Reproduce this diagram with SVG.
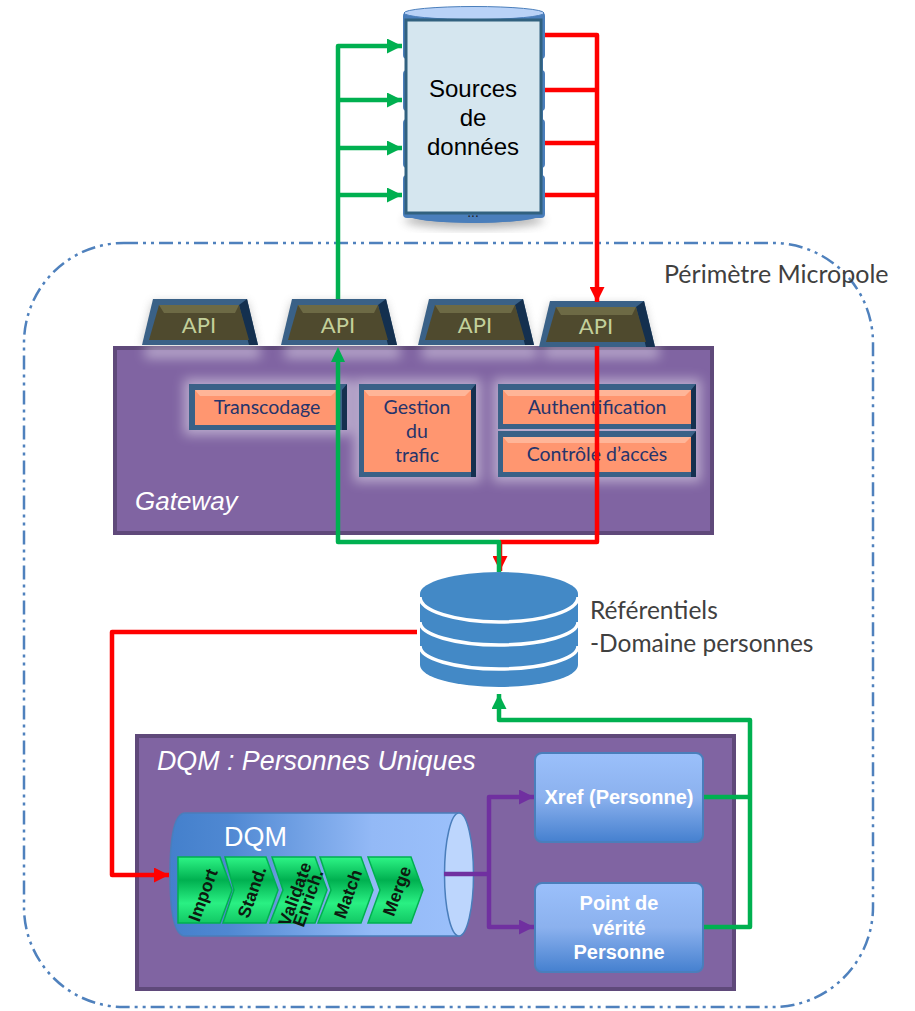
<svg xmlns="http://www.w3.org/2000/svg" width="915" height="1011" viewBox="0 0 915 1011">
<style>
.lato{font-family:Lato,"Open Sans",sans-serif}
.api{font-family:Lato,"Open Sans",sans-serif;font-size:22px;fill:#c3d09b;text-anchor:middle}
.or{font-family:Lato,"Open Sans",sans-serif;font-size:19.500px;fill:#26346b;text-anchor:middle}
.rot{font-family:"Liberation Sans",Arial,sans-serif;font-weight:bold;font-size:17.500px;fill:#0d1a10;text-anchor:middle}
.wb{font-family:"Liberation Sans",Arial,sans-serif;font-weight:bold;font-size:20px;fill:#fff;text-anchor:middle}
.panel{fill:#8064a2;stroke:#5f497a;stroke-width:4}
.box{stroke:#4a7ebb;stroke-width:2;fill:url(#boxg)}
.chev{fill:url(#greeng);stroke:#00b050;stroke-width:1.500}
.g{fill:none;stroke:#00b050;stroke-width:4.500;stroke-linejoin:round}
.r{fill:none;stroke:#ff0000;stroke-width:4.500;stroke-linejoin:round}
.p{fill:none;stroke:#7030a0;stroke-width:4.500;stroke-linejoin:round}
</style>
<defs>
<linearGradient id="boxg" x1="0" y1="0" x2="0" y2="1"><stop offset="0" stop-color="#9bc0fb"/><stop offset="0.5" stop-color="#8bb1ee"/><stop offset="1" stop-color="#4580cf"/></linearGradient>
<linearGradient id="cylg" x1="0" y1="0" x2="1" y2="0"><stop offset="0" stop-color="#4480cc"/><stop offset="0.2" stop-color="#4f88d2"/><stop offset="0.7" stop-color="#93b9f6"/><stop offset="1" stop-color="#9bc0fb"/></linearGradient>
<linearGradient id="greeng" x1="0" y1="0" x2="0" y2="1"><stop offset="0" stop-color="#2ef586"/><stop offset="0.35" stop-color="#00b050"/><stop offset="0.7" stop-color="#2af083"/><stop offset="1" stop-color="#12c864"/></linearGradient>
<filter id="glow" x="-20%" y="-30%" width="140%" height="160%"><feGaussianBlur stdDeviation="6"/></filter>
<filter id="shadow" x="-20%" y="-30%" width="140%" height="160%"><feGaussianBlur stdDeviation="5"/></filter>
<marker id="ag" markerUnits="userSpaceOnUse" markerWidth="16" markerHeight="15" refX="15" refY="7.500" orient="auto"><path d="M0 0L15 7.500L0 15Z" fill="#00b050"/></marker>
<marker id="ar" markerUnits="userSpaceOnUse" markerWidth="16" markerHeight="15" refX="15" refY="7.500" orient="auto"><path d="M0 0L15 7.500L0 15Z" fill="#ff0000"/></marker>
<marker id="ap" markerUnits="userSpaceOnUse" markerWidth="16" markerHeight="15" refX="15" refY="7.500" orient="auto"><path d="M0 0L15 7.500L0 15Z" fill="#7030a0"/></marker>
<g id="trap"><path d="M0 46L11 0H105L116 46Z" fill="#3a6187"/><path d="M105 0L116 46H107L97 6Z" fill="#14304f"/><path d="M7 41L17 6H97L107 41Z" fill="#4f4a2e"/><path d="M17 6H97L93 14H22Z" fill="#6d6a45"/></g>
</defs>

<rect id="perimetre" x="24" y="243" width="849" height="764" rx="100" fill="none" stroke="#4f81bd" stroke-width="2.500" stroke-dasharray="14 5 3 5 3 5"/>
<text class="lato" x="664" y="283" font-size="25" fill="#404040">Périmètre Micropole</text>

<g id="sources">
<ellipse cx="474" cy="220" rx="70" ry="8" fill="#555" opacity="0.45" filter="url(#shadow)"/>
<path d="M405 14H543V212Q543 222 474 223Q405 222 405 212Z" fill="#4a7ebb"/>
<path d="M403 212Q403 222 474 223Q545 222 545 212V205H403Z" fill="#4a7ebb"/>
<rect x="403" y="12" width="142" height="47" rx="4" fill="#4a7ebb"/>
<rect x="403" y="70" width="142" height="41" rx="4" fill="#4a7ebb"/>
<rect x="403" y="119" width="142" height="49" rx="4" fill="#4a7ebb"/>
<rect x="403" y="175" width="142" height="43" rx="4" fill="#4a7ebb"/>
<ellipse cx="474" cy="13" rx="70" ry="6.500" fill="#b9d2f7" stroke="#4a7ebb"/>
<text x="473" y="217" font-family="Liberation Sans,Arial,sans-serif" font-size="14" fill="#222" text-anchor="middle">...</text>
<rect x="406" y="20" width="135" height="193" fill="#d5e6ef" stroke="#31617f" stroke-width="3"/>
<text font-family="Liberation Sans,Arial,sans-serif" font-size="24" fill="#000" text-anchor="middle"><tspan x="473" y="97">Sources</tspan><tspan x="473" y="126">de</tspan><tspan x="473" y="155">données</tspan></text>
</g>

<g fill="#666" opacity="0.4" filter="url(#shadow)">
<path d="M142 346L153 302H247L257 346Z"/><path d="M281 346L292 302H385L396 346Z"/><path d="M418 346L429 302H522L533 346Z"/><path d="M540 348L550 304H643L654 348Z"/>
</g>

<g id="gateway">
<rect class="panel" x="115" y="348" width="597" height="185"/>
<text x="135" y="510" font-family="Liberation Sans,Arial,sans-serif" font-style="italic" font-size="26" fill="#fff">Gateway</text>
</g>
<g fill="#fff" opacity="0.45" filter="url(#glow)">
<rect x="145" y="346" width="115" height="12"/><rect x="285" y="346" width="115" height="12"/><rect x="422" y="346" width="115" height="12"/><rect x="544" y="346" width="115" height="12"/>
<rect x="184" y="379" width="168" height="56"/><rect x="354" y="379" width="127" height="103"/><rect x="493" y="379" width="208" height="103"/>
</g>

<g id="api1"><use href="#trap" x="142" y="299"/><text class="api" x="199" y="333">API</text></g>
<g id="api2"><use href="#trap" x="281" y="299"/><text class="api" x="338" y="333">API</text></g>
<g id="api3"><use href="#trap" x="418" y="299"/><text class="api" x="475" y="333">API</text></g>
<g id="api4"><use href="#trap" x="539" y="301"/><text class="api" x="596" y="334">API</text></g>

<g id="transcodage">
<rect x="189" y="384" width="158" height="46" fill="#3a6187"/><path d="M347 384V430H342V390Z" fill="#14304f"/>
<rect x="195" y="390" width="142" height="35" fill="#ff9670"/><path d="M195 390H337L331 396H200Z" fill="#ffb598"/>
<text class="or" x="267" y="414">Transcodage</text>
</g>
<g id="gestion">
<rect x="359" y="384" width="117" height="93" fill="#3a6187"/><path d="M476 384V477H471V390Z" fill="#14304f"/>
<rect x="364" y="390" width="107" height="82" fill="#ff9670"/><path d="M364 390H471L465 396H369Z" fill="#ffb598"/>
<text class="or"><tspan x="417" y="414">Gestion</tspan><tspan x="417" y="438">du</tspan><tspan x="417" y="462">trafic</tspan></text>
</g>
<g id="auth">
<rect x="498" y="384" width="198" height="45" fill="#3a6187"/><path d="M696 384V429H691V390Z" fill="#14304f"/>
<rect x="503" y="390" width="188" height="34" fill="#ff9670"/><path d="M503 390H691L685 396H508Z" fill="#ffb598"/>
<text class="or" x="597" y="414">Authentification</text>
</g>
<g id="controle">
<rect x="498" y="431" width="198" height="46" fill="#3a6187"/><path d="M696 431V477H691V437Z" fill="#14304f"/>
<rect x="503" y="437" width="188" height="35" fill="#ff9670"/><path d="M503 437H691L685 443H508Z" fill="#ffb598"/>
<text class="or" x="597" y="461">Contrôle d’accès</text>
</g>

<g id="referentiels">
<path d="M420 594A79 22 0 0 1 578 594V665A79 22 0 0 1 420 665Z" fill="#4389c6"/>
<path d="M420 597A79 25 0 0 0 578 597M420 622A79 23 0 0 0 578 622M420 646A79 23 0 0 0 578 646" fill="none" stroke="#fff" stroke-width="3.500"/>
<text class="lato" font-size="24.500" fill="#404040"><tspan x="590" y="619">Référentiels</tspan><tspan x="590" y="652">-Domaine personnes</tspan></text>
</g>

<g id="dqm-panel">
<rect class="panel" x="137" y="736" width="597" height="253"/>
<text x="157" y="770" font-family="Liberation Sans,Arial,sans-serif" font-style="italic" font-size="26.800" fill="#fff">DQM : Personnes Uniques</text>
</g>

<g id="dqm-cylinder">
<path d="M459 813H185Q170 813 170 874.500Q170 936 185 936H459Z" fill="url(#cylg)" stroke="#4a7ebb" stroke-width="1.500"/>
<ellipse cx="459" cy="874.500" rx="14.500" ry="61.500" fill="#bdd6fd" stroke="#4a7ebb" stroke-width="1.500"/>
<text x="224" y="846" font-family="Liberation Sans,Arial,sans-serif" font-size="27" fill="#fff">DQM</text>
</g>
<g id="import"><path class="chev" d="M178 857H220L232 890L220 923H178Z"/><text class="rot" transform="translate(203 895) rotate(-70)" dy="6">Import</text></g>
<g id="stand"><path class="chev" d="M225 857H266L278 890L266 923H223L234 890Z"/><text class="rot" transform="translate(252 892) rotate(-70)" dy="6">Stand.</text></g>
<g id="validate"><path class="chev" d="M272 857H315L327 890L315 923H270L283 890Z"/><text class="rot" transform="translate(295 894) rotate(-70)" dy="6">Validate</text><text class="rot" transform="translate(308 898) rotate(-70)" dy="6">Enrich.</text></g>
<g id="match"><path class="chev" d="M320 857H361L373 890L361 923H318L331 890Z"/><text class="rot" transform="translate(348 894) rotate(-70)" dy="6">Match</text></g>
<g id="merge"><path class="chev" d="M368 857H411L423 890L411 923H368L380 890Z"/><text class="rot" transform="translate(397 891) rotate(-70)" dy="6">Merge</text></g>

<g id="xref"><rect class="box" x="535" y="753" width="168" height="89" rx="7"/><text class="wb" x="619" y="804">Xref (Personne)</text></g>
<g id="point"><rect class="box" x="535" y="883" width="168" height="89" rx="7"/><text class="wb"><tspan x="619" y="910">Point de</tspan><tspan x="619" y="935">vérité</tspan><tspan x="619" y="959">Personne</tspan></text></g>

<g id="connectors">
<path class="r" d="M545 35H597V302" marker-end="url(#ar)"/>
<path class="r" d="M545 90H597M545 143H597M545 195H597"/>
<path class="g" d="M338 299V46H402" marker-end="url(#ag)"/>
<path class="g" d="M338 100H402" marker-end="url(#ag)"/>
<path class="g" d="M338 148H402" marker-end="url(#ag)"/>
<path class="g" d="M338 195H402" marker-end="url(#ag)"/>
<path class="r" d="M597 346V542H500V571" marker-end="url(#ar)"/>
<path class="g" d="M338 360V542H499V572"/>
<path d="M331 362L338 347L345 362Z" fill="#00b050"/>
<path class="r" d="M417 632H112V875H169" marker-end="url(#ar)"/>
<path class="g" d="M704 797H750M704 927H750V720H499V694" marker-end="url(#ag)"/>
<path class="p" d="M444 874H489"/>
<path class="p" d="M489 874V797H534" marker-end="url(#ap)"/>
<path class="p" d="M489 874V927H534" marker-end="url(#ap)"/>
</g>
</svg>
